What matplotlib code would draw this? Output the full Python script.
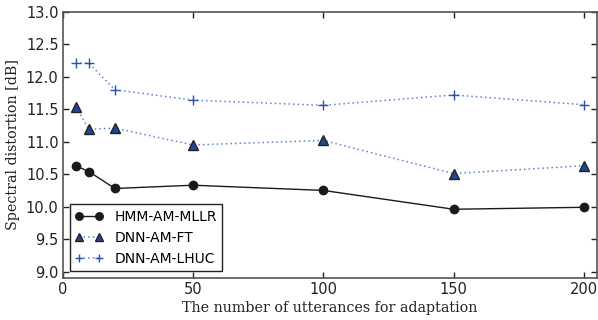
import matplotlib
matplotlib.use("Agg")
import matplotlib.pyplot as plt

utterances = [5, 10, 20, 50, 100, 150, 200]
hmm_mllr = [10.63, 10.54, 10.28, 10.33, 10.25, 9.96, 9.99]
dnn_ft = [11.54, 11.19, 11.21, 10.95, 11.02, 10.51, 10.63]
dnn_lhuc = [12.21, 12.21, 11.80, 11.64, 11.56, 11.72, 11.57]

fig = plt.figure(figsize=(5.98, 3.2), dpi=100)
ax = fig.add_axes([0.105, 0.131, 0.893, 0.832])

ax.plot(utterances, hmm_mllr, color="#1a1a1a", linestyle="-", linewidth=1,
        marker="o", markersize=6, label="HMM-AM-MLLR")
ax.plot(utterances, dnn_ft, color="#5f80d6", linestyle=(0, (1, 2)), linewidth=1.1,
        marker="^", markersize=6.5, markerfacecolor="#1f4799",
        markeredgecolor="#222222", label="DNN-AM-FT")
ax.plot(utterances, dnn_lhuc, color="#5f80d6", linestyle=(0, (1, 2)), linewidth=1.1,
        marker="+", markersize=7, markeredgecolor="#2a50b0",
        markeredgewidth=1.0, label="DNN-AM-LHUC")

ax.set_xlim(0, 205)
ax.set_ylim(8.9, 13.0)
ax.set_xticks([0, 50, 100, 150, 200])
ax.set_yticks([9.0, 9.5, 10.0, 10.5, 11.0, 11.5, 12.0, 12.5, 13.0])
ax.set_yticklabels(["9.0", "9.5", "10.0", "10.5", "11.0", "11.5", "12.0", "12.5", "13.0"])
ax.tick_params(direction="in", top=True, right=True, length=4, width=1,
               labelsize=10.5, colors="#222222", pad=3)

for s in ax.spines.values():
    s.set_color("#555555")
    s.set_linewidth(1.2)

ax.set_xlabel("The number of utterances for adaptation", family="DejaVu Serif",
              fontsize=10.3, color="#222222", labelpad=3)
ax.set_ylabel("Spectral distortion [dB]", family="DejaVu Serif",
              fontsize=10.3, color="#222222")

leg = ax.legend(loc="lower left", fontsize=10, fancybox=False, framealpha=1,
                edgecolor="#222222", numpoints=2, handlelength=2.0,
                borderaxespad=0.5, labelspacing=0.5, markerscale=0.9)
leg.get_frame().set_linewidth(1)

fig.savefig("out.png", dpi=100)
